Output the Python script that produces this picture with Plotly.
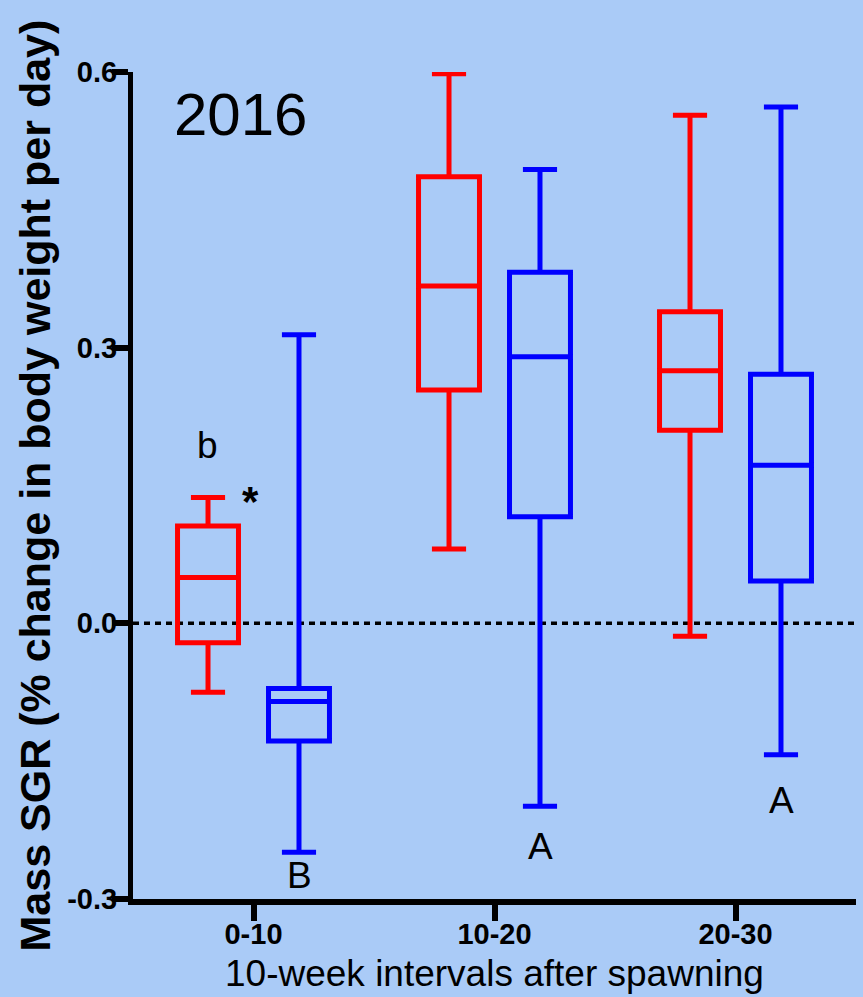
import plotly.graph_objects as go

categories = ["0-10", "10-20", "20-30"]

# Red series (five-number summaries)
red_upper = [0.137, 0.598, 0.553]
red_q3 = [0.106, 0.486, 0.339]
red_median = [0.050, 0.367, 0.275]
red_q1 = [-0.021, 0.254, 0.210]
red_lower = [-0.075, 0.081, -0.014]

# Blue series
blue_upper = [0.314, 0.494, 0.562]
blue_q3 = [-0.071, 0.382, 0.271]
blue_median = [-0.085, 0.290, 0.172]
blue_q1 = [-0.128, 0.116, 0.046]
blue_lower = [-0.249, -0.199, -0.143]

y_tickvals = [-0.3, 0.0, 0.3, 0.6]
y_ticktext = ["-0.3", "0.0", "0.3", "0.6"]

# letter labels: (text, x position, y value)
label_text = ["a", "a", "b", "*", "B", "A", "A"]
label_x = [1 - 0.189, 2 - 0.189, -0.189, -0.012, 0.19, 1.19, 2.19]
label_y = [0.642, 0.602, 0.193, 0.133, -0.274, -0.2426, -0.1925]

BG = "#AACBF7"
RED = "#FF0000"
BLUE = "#0000FF"

fig = go.Figure()
fig.add_trace(go.Box(
    x=categories, q1=red_q1, median=red_median, q3=red_q3,
    lowerfence=red_lower, upperfence=red_upper,
    name="red", line=dict(color=RED, width=5), fillcolor="rgba(0,0,0,0)",
    whiskerwidth=0.56, boxpoints=False, hoverinfo="skip",
))
fig.add_trace(go.Box(
    x=categories, q1=blue_q1, median=blue_median, q3=blue_q3,
    lowerfence=blue_lower, upperfence=blue_upper,
    name="blue", line=dict(color=BLUE, width=5), fillcolor="rgba(0,0,0,0)",
    whiskerwidth=0.56, boxpoints=False, hoverinfo="skip",
))

fig.add_shape(type="line", xref="paper", yref="y", x0=0, x1=1, y0=0, y1=0,
              line=dict(color="black", width=3.5, dash="6px,5px"), layer="below")

for t, x, y in zip(label_text, label_x, label_y):
    bold = t == "*"
    fig.add_annotation(x=x, y=y, xref="x", yref="y", text=t, showarrow=False,
                       font=dict(family="Liberation Sans", size=42 if bold else 37,
                                 color="black", weight="bold" if bold else "normal"),
                       xanchor="center", yanchor="middle")

fig.add_annotation(x=-0.054, y=0.554, xref="x", yref="y", text="2016", showarrow=False,
                   font=dict(family="Liberation Sans", size=60, color="black"),
                   xanchor="center", yanchor="middle")

fig.add_annotation(x=0.5, y=0, xref="paper", yref="paper", yshift=-52,
                   text="10-week intervals after spawning", showarrow=False,
                   font=dict(family="Liberation Sans", size=37, color="black"),
                   xanchor="center", yanchor="top")

fig.add_annotation(x=0, y=0.5, xref="paper", yref="paper", xshift=-99,
                   text="Mass SGR (% change in body weight per day)", showarrow=False,
                   textangle=-90,
                   font=dict(family="Liberation Sans", size=43, color="black", weight="bold"),
                   xanchor="center", yanchor="middle")

fig.update_layout(
    width=863, height=997,
    margin=dict(l=133, r=7, t=72, b=98),
    paper_bgcolor=BG, plot_bgcolor=BG,
    showlegend=False,
    boxmode="group", boxgap=0.245, boxgroupgap=0.33,
)
fig.update_xaxes(
    type="category", range=[-0.5, 2.5],
    showline=True, linewidth=6, linecolor="black",
    ticks="outside", ticklen=16, tickwidth=6, tickcolor="black",
    ticklabelstandoff=-12,
    tickfont=dict(family="Liberation Sans", size=29, color="black", weight="bold"),
    showgrid=False, zeroline=False,
)
fig.update_yaxes(
    range=[-0.3, 0.6], tickvals=y_tickvals, ticktext=y_ticktext,
    showline=True, linewidth=5, linecolor="black",
    ticks="outside", ticklen=16, tickwidth=6, tickcolor="black",
    ticklabelstandoff=-11,
    tickfont=dict(family="Liberation Sans", size=29, color="black", weight="bold"),
    showgrid=False, zeroline=False,
)

fig.write_html("out.html", config={"displayModeBar": False},
               post_script="document.body.style.margin='0';document.body.style.background='" + BG + "';")
